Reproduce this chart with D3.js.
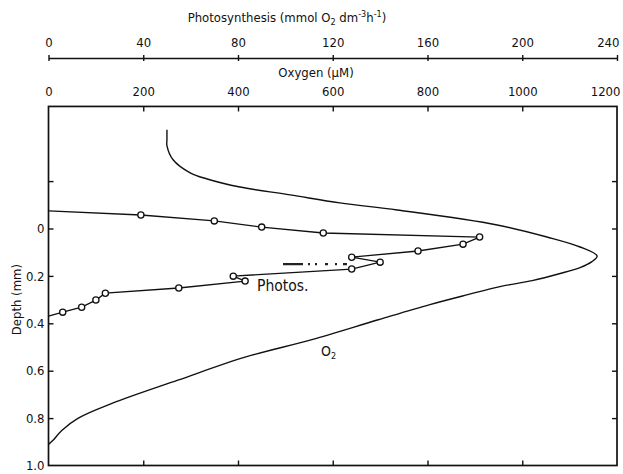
<!DOCTYPE html>
<html>
<head>
<meta charset="utf-8">
<script src="https://cdn.jsdelivr.net/npm/d3@7"></script>
<style>
  html, body { margin: 0; padding: 0; background: #fff; }
  svg { display: block; }
  text { font-family: "DejaVu Sans Condensed", "DejaVu Sans", sans-serif; fill: #111; }
</style>
</head>
<body>
<svg id="chart" width="623" height="474"></svg>
<script>
// Oxygen profile (µM) against depth (mm)
const o2Depth = [-0.417, -0.375, -0.350, -0.290, -0.235, -0.209, -0.175, -0.142, -0.108, -0.078, -0.015,
                 0.036, 0.078, 0.116, 0.140, 0.165, 0.190, 0.220, 0.245, 0.279, 0.321,
                 0.385, 0.469, 0.543, 0.640, 0.738, 0.801, 0.852, 0.895, 0.911];
const o2Value = [250, 250, 250, 263, 299, 335, 404, 510, 615, 736, 947,
                 1052, 1122, 1158, 1147, 1122, 1080, 1021, 953, 885, 805,
                 696, 556, 415, 273, 134, 62, 28, 9, 0];

// Gross photosynthesis (mmol O2 dm-3 h-1) against depth (mm)
const photoDepth = [-0.074, -0.057, -0.032, -0.006, 0.019, 0.036, 0.066, 0.095, 0.121, 0.142,
                    0.171, 0.201, 0.222, 0.251, 0.273, 0.302, 0.332, 0.353, 0.370];
const photoValue = [0, 39, 70, 90, 116, 182, 175, 156, 128, 140,
                    128, 78, 83, 55, 24, 20, 14, 6, 0];
// measured points carry a marker; the line ends on the axis without one
const photoMeasured = [false, true, true, true, true, true, true, true, true, true,
                       true, true, true, true, true, true, true, true, false];

// faint dash-dot trace at 0.15 mm
const traceDepth = [0.15, 0.15];
const traceValue = [99, 126];

// Axis ticks
const oxygenTicks = [0, 200, 400, 600, 800, 1000, 1200];
const photoTicks = [0, 40, 80, 120, 160, 200, 240];
const depthTicks = [-0.2, 0, 0.2, 0.4, 0.6, 0.8, 1.0];
const depthLabels = ["", "0", "0.2", "0.4", "0.6", "0.8", "1.0"];

const svg = d3.select("#chart");
const left = 48.5, right = 617;
const fmt = d3.format("d");

const x = d3.scaleLinear().domain([0, 1200]).range([left, right]);
const xP = d3.scaleLinear().domain([0, 240]).range([left, right]);
const y = d3.scaleLinear().domain([0, 1.0]).range([228.5, 465.5]);
const yTop = y(-0.515), yBottom = y(1.0);

// ---- Photosynthesis scale (top-most) ----
const pAxisY = 58;
const pAxis = svg.append("g").attr("transform", `translate(0,${pAxisY})`)
  .call(d3.axisTop(xP).tickValues(photoTicks).tickFormat(fmt).tickSize(3).tickSizeOuter(0).tickPadding(8));
pAxis.select(".domain").attr("stroke", "#111").attr("stroke-width", 1.6);
pAxis.selectAll(".tick line").attr("y1", 3).attr("y2", -3).attr("stroke", "#111").attr("stroke-width", 1.4);
pAxis.selectAll(".tick text").style("font-size", "13px").attr("fill", "#111")
  .each(function(d, i) {
    if (i === photoTicks.length - 1) d3.select(this).attr("text-anchor", "end").attr("dx", 2);
  });

const pTitle = svg.append("text").attr("x", 287).attr("y", 22).attr("text-anchor", "middle")
  .style("font-size", "13px");
pTitle.append("tspan").text("Photosynthesis (mmol O");
pTitle.append("tspan").text("2").style("font-size", "9px").attr("dy", 3);
pTitle.append("tspan").text(" dm").attr("dy", -3);
pTitle.append("tspan").text("-3").style("font-size", "9px").attr("dy", -5);
pTitle.append("tspan").text("h").attr("dy", 5);
pTitle.append("tspan").text("-1").style("font-size", "9px").attr("dy", -5);
pTitle.append("tspan").text(")").attr("dy", 5);

// ---- Oxygen scale on the frame top ----
svg.append("text").attr("x", 316).attr("y", 77).attr("text-anchor", "middle")
  .style("font-size", "13px").text("Oxygen (\u00b5M)");

const oAxis = svg.append("g").attr("transform", `translate(0,${yTop})`)
  .call(d3.axisBottom(x).tickValues(oxygenTicks).tickFormat(fmt).tickSize(5).tickSizeOuter(0));
oAxis.select(".domain").remove();
oAxis.selectAll(".tick line").attr("stroke", "#111").attr("stroke-width", 1.4)
  .attr("display", d => (d === 0 || d === 1200) ? "none" : null);
oAxis.selectAll(".tick text").style("font-size", "13px").attr("fill", "#111")
  .attr("y", -10).attr("dy", 0)
  .each(function(d, i) {
    if (i === oxygenTicks.length - 1) d3.select(this).attr("text-anchor", "end").attr("dx", 3);
  });

// bottom frame ticks (inward)
const bAxis = svg.append("g").attr("transform", `translate(0,${yBottom})`)
  .call(d3.axisTop(x).tickValues(oxygenTicks.slice(1, -1)).tickSize(5).tickFormat(""));
bAxis.select(".domain").remove();
bAxis.selectAll(".tick line").attr("stroke", "#111").attr("stroke-width", 1.4);

// ---- Depth axis ----
const lAxis = svg.append("g").attr("transform", `translate(${left},0)`)
  .call(d3.axisRight(y).tickValues(depthTicks.slice(0, -1)).tickSize(5).tickFormat(""));
lAxis.select(".domain").remove();
lAxis.selectAll(".tick line").attr("stroke", "#111").attr("stroke-width", 1.4);

svg.append("g").selectAll("text").data(depthTicks).join("text")
  .attr("x", left - 4).attr("y", d => y(d)).attr("dy", "0.36em")
  .attr("text-anchor", "end").style("font-size", "13px")
  .text((d, i) => depthLabels[i]);

const rAxis = svg.append("g").attr("transform", `translate(${right},0)`)
  .call(d3.axisLeft(y).tickValues(depthTicks.slice(0, -1)).tickSize(5).tickFormat(""));
rAxis.select(".domain").remove();
rAxis.selectAll(".tick line").attr("stroke", "#111").attr("stroke-width", 1.4);

svg.append("text").attr("transform", `translate(21,${y(0.3)}) rotate(-90)`)
  .attr("text-anchor", "middle").style("font-size", "13px").text("Depth (mm)");

// frame
svg.append("rect").attr("x", left).attr("y", yTop)
  .attr("width", right - left).attr("height", yBottom - yTop)
  .attr("fill", "none").attr("stroke", "#111").attr("stroke-width", 1.7);

// ---- Oxygen profile ----
const o2Line = d3.line().x(d => x(d[1])).y(d => y(d[0])).curve(d3.curveCatmullRom.alpha(0.5));
svg.append("path").datum(d3.zip(o2Depth, o2Value))
  .attr("d", o2Line).attr("fill", "none").attr("stroke", "#111").attr("stroke-width", 1.4);

// ---- Photosynthesis profile ----
const pLine = d3.line().x(d => xP(d[1])).y(d => y(d[0]));
svg.append("path").datum(d3.zip(photoDepth, photoValue))
  .attr("d", pLine).attr("fill", "none").attr("stroke", "#111").attr("stroke-width", 1.3);

svg.append("path").datum(d3.zip(traceDepth, traceValue))
  .attr("d", pLine).attr("fill", "none").attr("stroke", "#222").attr("stroke-width", 2.2)
  .attr("stroke-dasharray", "20 5 2 5 2 8 3 7 2 6");

svg.append("g").selectAll("circle")
  .data(d3.zip(photoDepth, photoValue, photoMeasured).filter(d => d[2]))
  .join("circle")
  .attr("cx", d => xP(d[1])).attr("cy", d => y(d[0])).attr("r", 3.1)
  .attr("fill", "#fff").attr("stroke", "#111").attr("stroke-width", 1.3);

// series labels
svg.append("text").attr("x", 257).attr("y", 291).style("font-size", "15.5px").text("Photos.");
const o2Label = svg.append("text").attr("x", 321).attr("y", 356).style("font-size", "14px");
o2Label.append("tspan").text("O");
o2Label.append("tspan").text("2").style("font-size", "9px").attr("dy", 3);
</script>
</body>
</html>
